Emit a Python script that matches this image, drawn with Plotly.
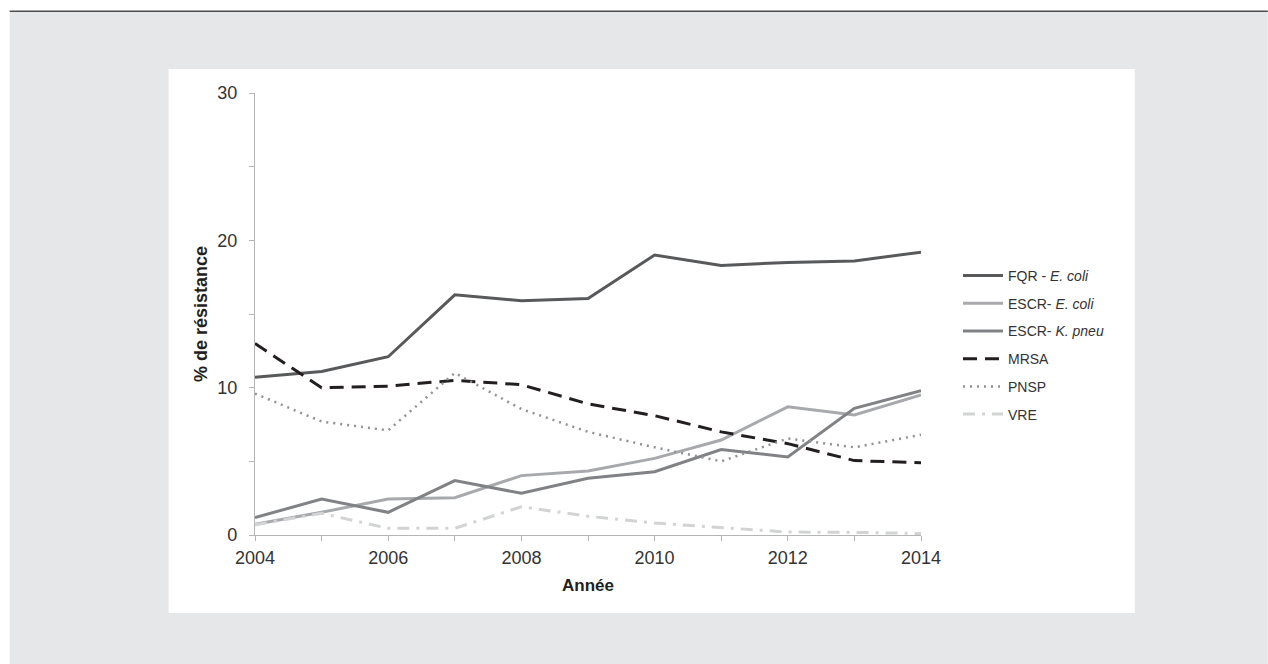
import plotly.graph_objects as go

years = [2004, 2005, 2006, 2007, 2008, 2009, 2010, 2011, 2012, 2013, 2014]
fqr_ecoli = [10.7, 11.1, 12.1, 16.3, 15.9, 16.05, 19.0, 18.3, 18.5, 18.6, 19.2]
escr_ecoli = [0.72, 1.54, 2.44, 2.53, 4.03, 4.35, 5.2, 6.45, 8.7, 8.15, 9.5]
escr_kpneu = [1.18, 2.44, 1.54, 3.69, 2.83, 3.85, 4.3, 5.8, 5.3, 8.6, 9.8]
mrsa = [13.0, 10.0, 10.1, 10.5, 10.2, 8.9, 8.1, 7.0, 6.2, 5.05, 4.9]
pnsp = [9.6, 7.7, 7.1, 11.0, 8.55, 7.0, 5.95, 5.0, 6.55, 5.95, 6.8]
vre = [0.7, 1.47, 0.45, 0.45, 1.92, 1.27, 0.81, 0.5, 0.2, 0.18, 0.1]

series_names = ["FQR - <i>E. coli</i>", "ESCR- <i>E. coli</i>", "ESCR- <i>K. pneu</i>",
                "MRSA", "PNSP", "VRE"]
series_values = [fqr_ecoli, escr_ecoli, escr_kpneu, mrsa, pnsp, vre]

x_tick_vals = years
x_tick_text = ["2004", "", "2006", "", "2008", "", "2010", "", "2012", "", "2014"]
y_tick_vals = [0, 5, 10, 15, 20, 25, 30]
y_tick_text = ["0", "", "10", "", "20", "", "30"]

styles = [
    dict(color="#58595b", width=3, dash="solid"),
    dict(color="#a7a9ac", width=3, dash="solid"),
    dict(color="#808285", width=3, dash="solid"),
    dict(color="#231f20", width=3, dash="14px,8px"),
    dict(color="#8f9194", width=2.5, dash="2px,5px"),
    dict(color="#d1d3d4", width=3, dash="12px,7px,3px,7px"),
]

W, H = 1268, 664
L, R, T, B = 254.5, 921.0, 93.0, 535.0  # plot area in page pixels


def px(xp):
    return (xp - L) / (R - L)


def py(yp):
    return (B - yp) / (B - T)


fig = go.Figure()
for i, (name, vals, st) in enumerate(zip(series_names, series_values, styles)):
    fig.add_trace(go.Scatter(
        x=years, y=vals, mode="lines", name=name,
        line=dict(color=st["color"], width=st["width"], dash=st["dash"]),
        legendgroup=f"g{i}",
    ))

shapes = [
    dict(type="rect", xref="paper", yref="paper", x0=px(9), x1=px(1268), y0=py(664), y1=py(11),
         fillcolor="#e6e7e8", line=dict(width=0), layer="below"),
    dict(type="rect", xref="paper", yref="paper", x0=px(168), x1=px(1135), y0=py(613), y1=py(69),
         fillcolor="#ffffff", line=dict(width=0), layer="below"),
    dict(type="line", xref="paper", yref="paper", x0=px(9), x1=px(1268), y0=py(11.3), y1=py(11.3),
         line=dict(color="#4d4d4f", width=1.5), layer="below"),
]

fig.update_layout(
    width=W, height=H,
    margin=dict(l=L, r=W - R, t=T, b=H - B, pad=0),
    paper_bgcolor="#ffffff",
    plot_bgcolor="rgba(0,0,0,0)",
    shapes=shapes,
    font=dict(family="Liberation Sans, Arial, sans-serif", color="#333333"),
    showlegend=True,
    legend=dict(
        x=px(958), xanchor="left", y=py(260), yanchor="top",
        font=dict(size=14, color="#333333"),
        bgcolor="rgba(0,0,0,0)", itemwidth=40, tracegroupgap=6.5,
    ),
    xaxis=dict(
        range=[2004, 2014], tickvals=x_tick_vals, ticktext=x_tick_text,
        showgrid=False, zeroline=False, showline=True, linecolor="#b5b5b5", linewidth=1.3,
        ticks="outside", ticklen=5, tickcolor="#b5b5b5", tickwidth=1.3,
        tickfont=dict(size=18, color="#333333"), ticklabelstandoff=1,
        title=dict(text="<b>Année</b>", font=dict(size=17, color="#231f20"), standoff=12),
    ),
    yaxis=dict(
        range=[0, 30], tickvals=y_tick_vals, ticktext=y_tick_text,
        showgrid=False, zeroline=False, showline=True, linecolor="#b5b5b5", linewidth=1.3,
        ticks="outside", ticklen=5, tickcolor="#b5b5b5", tickwidth=1.3,
        tickfont=dict(size=18, color="#333333"), ticklabelstandoff=8,
        title=dict(text="<b>% de résistance</b>", font=dict(size=18, color="#231f20"), standoff=4),
    ),
)

fig.write_html("out.html", post_script="document.body.style.margin='0';",
               config={"displayModeBar": False})
